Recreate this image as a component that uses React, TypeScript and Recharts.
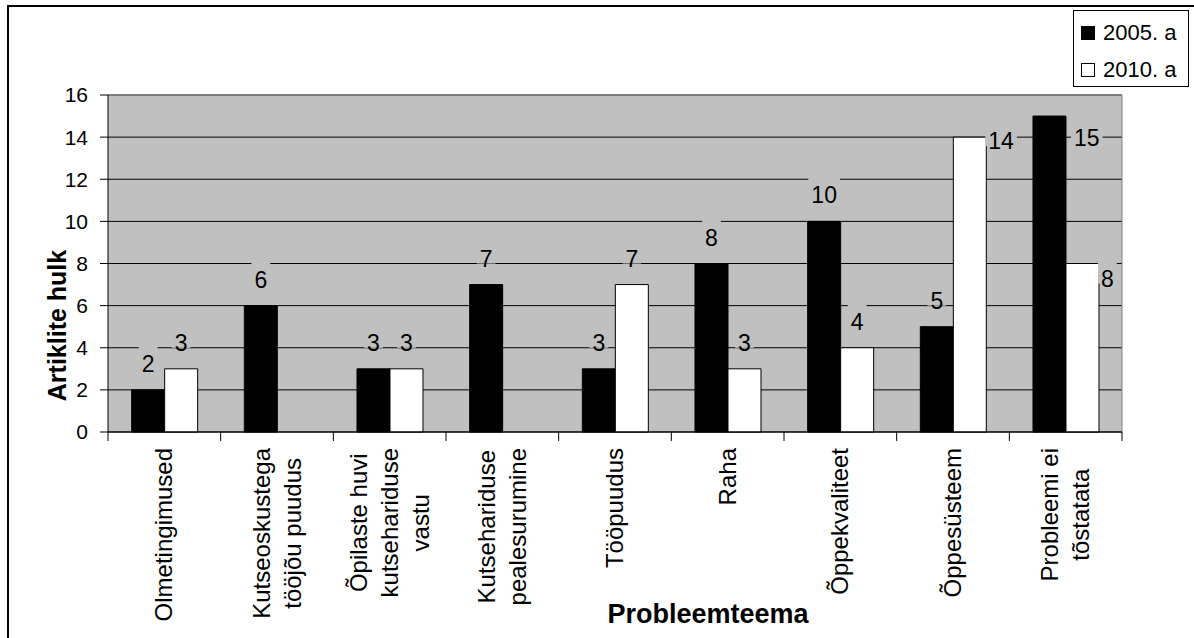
import React from 'react';
import { BarChart, Bar, XAxis, YAxis, CartesianGrid, LabelList, ReferenceLine } from 'recharts';

const categories = [
  'Olmetingimused',
  'Kutseoskustega\ntööjõu puudus',
  'Õpilaste huvi\nkutsehariduse\nvastu',
  'Kutsehariduse\npealesurumine',
  'Tööpuudus',
  'Raha',
  'Õppekvaliteet',
  'Õppesüsteem',
  'Probleemi ei\ntõstatata',
];
const values2005 = [2, 6, 3, 7, 3, 8, 10, 5, 15];
const values2010 = [3, null, 3, null, 7, 3, 4, 14, 8];
const yTicks = [0, 2, 4, 6, 8, 10, 12, 14, 16];
const seriesNames = ['2005. a', '2010. a'];
const seriesFills = ['#000000', '#ffffff'];

const data = categories.map((name, i) => ({ name, y2005: values2005[i], y2010: values2010[i] }));

const W = 1194;
const H = 638;
const PLOT_LEFT = 108;
const PLOT_RIGHT = 1122;
const PLOT_TOP = 95;
const PLOT_BOTTOM = 432;
const BAND = (PLOT_RIGHT - PLOT_LEFT) / categories.length;
const FONT = "'Liberation Sans', Arial, sans-serif";

// a few labels sit beside the bar instead of above it (dx, dy from bar top-right),
// keyed by series and category index
const LABEL_BESIDE: Record<string, [number, number]> = {
  '2010-7': [2, 4],
  '2005-8': [8, 22],
  '2010-8': [2, 15],
};

let ctx: CanvasRenderingContext2D | null = null;
function measure(text: string, font: string) {
  if (!ctx) ctx = document.createElement('canvas').getContext('2d');
  if (!ctx) return text.length * 12;
  ctx.font = font;
  return ctx.measureText(text).width;
}

const XTick = (props: any) => {
  const { x, y, payload, index } = props;
  const lines = String(payload.value).split('\n');
  const size = 24;
  const longest = Math.max(...lines.map((l) => measure(l, `${size}px ${FONT}`)));
  const cy = y + 16 + longest / 2;
  return (
    <g>
      <line x1={x - BAND / 2} x2={x - BAND / 2} y1={y} y2={y + 9} stroke="#000" />
      {index === categories.length - 1 && (
        <line x1={x + BAND / 2} x2={x + BAND / 2} y1={y} y2={y + 9} stroke="#000" />
      )}
      <text
        transform={`translate(${x},${cy}) rotate(-90)`}
        textAnchor="middle"
        fontSize={size}
        fontFamily={FONT}
        fill="#000"
      >
        {lines.map((l, i) => (
          <tspan key={i} x={0} y={(i - (lines.length - 1) / 2) * 31 + 8}>
            {l}
          </tspan>
        ))}
      </text>
    </g>
  );
};

const renderLabel = (series: string) => (p: any) => {
  const { x, y, width, value } = p;
  if (value === null || value === undefined) return null;
  const bx = Number(x);
  const bw = Number(width);
  const by = Number(y);
  const cat = Math.floor((bx + bw / 2 - PLOT_LEFT) / BAND);
  const txt = String(value);
  const size = 23;
  const w = measure(txt, `${size}px ${FONT}`);
  const beside = LABEL_BESIDE[`${series}-${cat}`];
  let cx: number;
  let cy: number;
  if (beside) {
    cx = bx + bw + beside[0] + w / 2;
    cy = by + beside[1];
  } else {
    cx = bx + bw / 2;
    cy = by - 26;
  }
  return (
    <g key={`${series}-${cat}`}>
      <rect x={cx - w / 2 - 3} y={cy - 20} width={w + 6} height={25} fill="#c0c0c0" />
      <text x={cx} y={cy + 8} textAnchor="middle" fontSize={size} fontFamily={FONT} fill="#000">
        {txt}
      </text>
    </g>
  );
};

const YTitle = (props: any) => {
  const vb = props.viewBox || { x: 0, y: PLOT_TOP, width: PLOT_LEFT, height: PLOT_BOTTOM - PLOT_TOP };
  const cx = vb.x + 57;
  const cy = vb.y + vb.height / 2 + 62;
  return (
    <text
      transform={`translate(${cx},${cy}) rotate(-90)`}
      textAnchor="middle"
      dominantBaseline="central"
      fontSize={25}
      fontWeight="bold"
      fontFamily={FONT}
      fill="#000"
    >
      Artiklite hulk
    </text>
  );
};

const XTitle = (props: any) => {
  const vb = props.viewBox || { x: PLOT_LEFT, y: PLOT_BOTTOM, width: PLOT_RIGHT - PLOT_LEFT, height: H - PLOT_BOTTOM };
  return (
    <text
      x={vb.x + vb.width / 2 + 93}
      y={vb.y + 191}
      textAnchor="middle"
      fontSize={27}
      fontWeight="bold"
      fontFamily={FONT}
      fill="#000"
    >
      Probleemteema
    </text>
  );
};

export default function App() {
  return (
    <div style={{ position: 'absolute', left: 0, top: 0, width: W, height: H, overflow: 'hidden', background: '#fff' }}>
      <div
        style={{
          position: 'absolute',
          left: 7,
          top: 5,
          width: W + 100,
          height: H + 100,
          border: '2px solid #000',
        }}
      />
      <BarChart
        width={W}
        height={H}
        data={data}
        margin={{ top: PLOT_TOP, right: W - PLOT_RIGHT, left: 0, bottom: 0 }}
        barCategoryGap="21%"
        barGap={0}
        style={{ position: 'absolute', left: 0, top: 0 }}
      >
        <CartesianGrid vertical={false} stroke="#000" fill="#c0c0c0" fillOpacity={1} />
        <CartesianGrid horizontal={false} verticalPoints={[PLOT_RIGHT]} stroke="#808080" />
        <XAxis
          dataKey="name"
          interval={0}
          height={H - PLOT_BOTTOM}
          tickLine={false}
          tickSize={0}
          tickMargin={0}
          axisLine={{ stroke: '#000' }}
          tick={<XTick />}
          label={<XTitle />}
        />
        <YAxis
          width={PLOT_LEFT}
          domain={[0, 16]}
          ticks={yTicks}
          interval={0}
          tickSize={8}
          tickMargin={12}
          axisLine={{ stroke: '#000' }}
          tickLine={{ stroke: '#000' }}
          tick={{ fontSize: 21, fill: '#000', fontFamily: FONT }}
          label={<YTitle />}
        />
        <ReferenceLine y={16} stroke="#808080" strokeWidth={1.5} />
        <Bar dataKey="y2005" name={seriesNames[0]} fill={seriesFills[0]} stroke="#000" isAnimationActive={false}>
          <LabelList dataKey="y2005" content={renderLabel('2005')} />
        </Bar>
        <Bar dataKey="y2010" name={seriesNames[1]} fill={seriesFills[1]} stroke="#000" isAnimationActive={false}>
          <LabelList dataKey="y2010" content={renderLabel('2010')} />
        </Bar>
      </BarChart>
      <div
        style={{
          position: 'absolute',
          left: 1073,
          top: 10,
          width: 116,
          height: 77,
          boxSizing: 'border-box',
          border: '1.5px solid #000',
          background: '#fff',
          fontFamily: FONT,
          fontSize: 22,
          color: '#000',
        }}
      >
        {seriesNames.map((n, i) => (
          <div key={n} style={{ position: 'absolute', left: 7, top: 10 + i * 37, height: 24, display: 'flex', alignItems: 'center' }}>
            <span
              style={{
                display: 'inline-block',
                width: 12,
                height: 12,
                background: seriesFills[i],
                border: '1px solid #000',
                marginRight: 8,
              }}
            />
            <span style={{ lineHeight: '24px' }}>{n}</span>
          </div>
        ))}
      </div>
    </div>
  );
}
